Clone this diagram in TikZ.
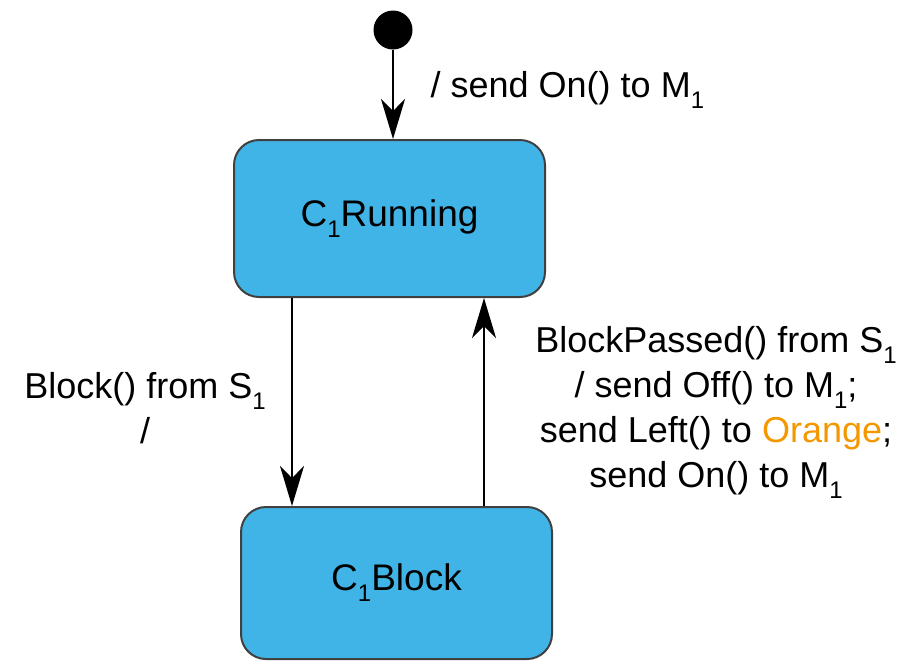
\documentclass[tikz,border=0pt]{standalone}
\usepackage{fontspec}
\setmainfont{Liberation Sans}
\usetikzlibrary{arrows.meta}

\definecolor{stateblue}{RGB}{64,180,230}
\definecolor{stateedge}{RGB}{64,64,64}
\definecolor{lblorange}{RGB}{243,152,0}
\newcommand{\lowidx}[1]{\raisebox{-5.5pt}{\fontsize{12}{12}\selectfont #1}}

\begin{document}
\begin{tikzpicture}[x=0.5pt,y=-0.5pt,
    state/.style={draw=stateedge,line width=1pt,fill=stateblue,rounded corners=12.5pt,
      minimum width=155.5pt,font=\fontsize{18.5}{22}\selectfont},
    trans/.style={line width=1pt,-{Stealth[length=20pt,width=12pt,inset=6pt]}},
    lbl/.style={font=\fontsize{18}{22.5}\selectfont,align=center}]
            \useasboundingbox (0,0) rectangle (919,661);
            \coordinate (l) at (292,0);
            \coordinate (r) at (484,0);
            \node[circle,fill=black,inner sep=0pt,minimum size=19.5pt] (init) at (393,30) {};
            \node[state,minimum height=78.5pt] (run) at (389.5,218.5) {C\lowidx{1}Running};
            \node[state,minimum height=76pt] (blk) at (396.5,583) {C\lowidx{1}Block};

            \draw[trans] (init) -- (init |- run.north)
                node[pos=0.45,right=15pt,lbl] {/ send On() to M\lowidx{1}};
            \draw[trans] (run.south -| l) -- (blk.north -| l);
            \draw[trans] (blk.north -| r) -- (run.south -| r);

            \node[lbl] (blklbl) at (145,408) {Block() from S\lowidx{1}\\ /};
            \node[lbl] (passlbl) at (716,412) {BlockPassed() from S\lowidx{1}\\
                / send Off() to M\lowidx{1};\\
                send Left() to \textcolor{lblorange}{Orange};\\
                send On() to M\lowidx{1}};
        \end{tikzpicture}
\end{document}
